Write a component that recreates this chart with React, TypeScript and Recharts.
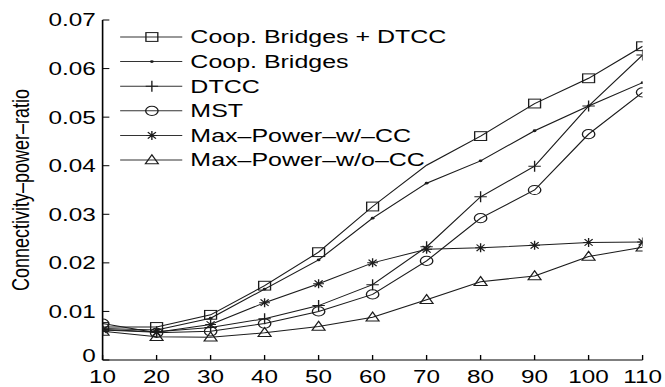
import { LineChart, Line, XAxis, YAxis } from "recharts";

// x positions and tick labels
const xValues = [10, 20, 30, 40, 50, 60, 70, 80, 90, 100, 110];
const yTicks = [0, 0.01, 0.02, 0.03, 0.04, 0.05, 0.06, 0.07];

// series values
const coopBridgesDtcc = [0.0068, 0.0068, 0.0093, 0.0153, 0.0222, 0.0316, 0.0401, 0.0461, 0.0528, 0.058, 0.0646];
const coopBridges = [0.0065, 0.0062, 0.0086, 0.0146, 0.0206, 0.0292, 0.0364, 0.041, 0.0472, 0.0523, 0.0571];
const dtcc = [0.0063, 0.0058, 0.0067, 0.0085, 0.0112, 0.0155, 0.0233, 0.0336, 0.0399, 0.0523, 0.0628];
const mst = [0.0075, 0.0056, 0.0059, 0.0075, 0.01, 0.0135, 0.0204, 0.0292, 0.035, 0.0465, 0.0551];
const maxPowerCC = [0.0062, 0.0057, 0.0073, 0.0118, 0.0157, 0.02, 0.0228, 0.0231, 0.0236, 0.0242, 0.0243];
const maxPowerNoCC = [0.0059, 0.0048, 0.0047, 0.0056, 0.0069, 0.0088, 0.0124, 0.0161, 0.0173, 0.0213, 0.0232];

const seriesList = [
  { key: "coopDtcc", name: "Coop. Bridges + DTCC", marker: "square", values: coopBridgesDtcc, hidden: [6] },
  { key: "coop", name: "Coop. Bridges", marker: "dot", values: coopBridges, hidden: [] as number[] },
  { key: "dtcc", name: "DTCC", marker: "plus", values: dtcc, hidden: [] as number[] },
  { key: "mst", name: "MST", marker: "circle", values: mst, hidden: [] as number[] },
  { key: "maxCC", name: "Max\u2013Power\u2013w/\u2013CC", marker: "star", values: maxPowerCC, hidden: [] as number[] },
  { key: "maxNoCC", name: "Max\u2013Power\u2013w/o\u2013CC", marker: "triangle", values: maxPowerNoCC, hidden: [] as number[] },
];

const data = xValues.map((x, i) => {
  const row: Record<string, number> = { x };
  seriesList.forEach((s) => (row[s.key] = s.values[i]));
  return row;
});

// the source image is stretched horizontally, so draw narrower and scale
const STRETCH = 1.35;
const W = 493;
const H = 387;
const FONT = '"Liberation Sans", Arial, Helvetica, sans-serif';
const INK = "#1c1c1c";

function Marker({ type, cx, cy }: { type: string; cx: number; cy: number }) {
  const st = { stroke: INK, strokeWidth: 1, fill: "none" };
  switch (type) {
    case "square":
      return <rect x={cx - 4.4} y={cy - 4.4} width={8.8} height={8.8} {...st} />;
    case "dot":
      return <circle cx={cx} cy={cy} r={1.4} fill={INK} />;
    case "plus":
      return <path d={`M${cx - 4.6},${cy}H${cx + 4.6}M${cx},${cy - 5.5}V${cy + 5.5}`} {...st} />;
    case "circle":
      return <circle cx={cx} cy={cy} r={4.6} {...st} />;
    case "star":
      return (
        <path
          d={`M${cx - 4},${cy}H${cx + 4}M${cx},${cy - 4.5}V${cy + 4.5}M${cx - 3},${cy - 3.3}L${cx + 3},${cy + 3.3}M${cx - 3},${cy + 3.3}L${cx + 3},${cy - 3.3}`}
          {...st}
        />
      );
    case "triangle":
      return <path d={`M${cx},${cy - 5.2}L${cx + 4.8},${cy + 3.8}L${cx - 4.8},${cy + 3.8}Z`} {...st} />;
    default:
      return null;
  }
}

const renderDot = (type: string, hidden: number[]) => (p: any) => {
  if (p.cx == null || p.cy == null || hidden.includes(p.index)) return <g key={`d-${type}-${p.index}`} />;
  return (
    <g key={`d-${type}-${p.index}`}>
      <Marker type={type} cx={p.cx} cy={p.cy} />
    </g>
  );
};

const BottomTick = (props: any) => {
  const { x, y, payload } = props;
  return (
    <g>
      <line x1={x} x2={x} y1={y} y2={y - 5} stroke="#000" />
      <text x={x} y={y + 23} textAnchor="middle" fontSize={18} fontFamily={FONT} fill="#000">
        {payload.value}
      </text>
    </g>
  );
};

const TopTick = (props: any) => {
  const { x, y } = props;
  return <line x1={x} x2={x} y1={y} y2={y + 5} stroke="#000" />;
};

const LeftTick = (props: any) => {
  const { x, y, payload } = props;
  const isZero = payload.value === 0;
  return (
    <g>
      <line x1={x} x2={x + 5} y1={y} y2={y} stroke="#000" />
      <text x={x - 5} y={y + (isZero ? 2.5 : 6.5)} textAnchor="end" fontSize={18} fontFamily={FONT} fill="#000">
        {isZero ? "0" : payload.value.toFixed(2)}
      </text>
    </g>
  );
};

const RightTick = (props: any) => {
  const { x, y } = props;
  return <line x1={x} x2={x - 5} y1={y} y2={y} stroke="#000" />;
};

const YLabel = () => (
  <text
    x={15.5}
    y={190}
    transform="rotate(-90 15.5 190)"
    textAnchor="middle"
    dominantBaseline="central"
    fontSize={18}
    fontFamily={FONT}
    fill="#000"
  >
    Connectivity–power–ratio
  </text>
);

const LegendBox = () => (
  <svg width={W} height={H} style={{ position: "absolute", left: 0, top: 0, pointerEvents: "none" }}>
    {seriesList.map((s, i) => {
      const y = 37 + i * 24.6;
      return (
        <g key={s.key}>
          <line x1={89} x2={135} y1={y} y2={y} stroke="#333" strokeWidth={1} />
          <Marker type={s.marker} cx={112.5} cy={y} />
          <text x={141} y={y + 6.5} fontSize={18.5} fontFamily={FONT} fill="#000">
            {s.name}
          </text>
        </g>
      );
    })}
  </svg>
);

export default function App() {
  const axisLine = { stroke: "#000", strokeWidth: 1.2 };
  return (
    <div
      style={{
        position: "absolute",
        left: 0,
        top: 0,
        width: W,
        height: H,
        background: "#fff",
        transform: `scaleX(${STRETCH})`,
        transformOrigin: "0 0",
      }}
    >
      <LineChart width={W} height={H} data={data} margin={{ top: 20, right: 17, bottom: 0, left: 0 }}>
        <XAxis
          dataKey="x"
          type="number"
          domain={[10, 110]}
          ticks={xValues}
          allowDataOverflow
          height={27}
          tickSize={0}
          tickMargin={0}
          tickLine={false}
          axisLine={axisLine}
          tick={<BottomTick />}
          interval={0}
        />
        <XAxis
          xAxisId="top"
          orientation="top"
          dataKey="x"
          type="number"
          domain={[10, 110]}
          ticks={xValues}
          allowDataOverflow
          height={0}
          tickSize={0}
          tickMargin={0}
          tickLine={false}
          axisLine={axisLine}
          tick={<TopTick />}
          interval={0}
        />
        <YAxis
          type="number"
          domain={[0, 0.07]}
          ticks={yTicks}
          allowDataOverflow
          width={76}
          tickSize={0}
          tickMargin={0}
          tickLine={false}
          axisLine={axisLine}
          tick={<LeftTick />}
          interval={0}
          label={<YLabel />}
        />
        <YAxis
          yAxisId="right"
          orientation="right"
          type="number"
          domain={[0, 0.07]}
          ticks={yTicks}
          allowDataOverflow
          width={0}
          tickSize={0}
          tickMargin={0}
          tickLine={false}
          axisLine={axisLine}
          tick={<RightTick />}
          interval={0}
        />
        {seriesList.map((s) => (
          <Line
            key={s.key}
            dataKey={s.key}
            name={s.name}
            stroke={INK}
            strokeWidth={1}
            dot={renderDot(s.marker, s.hidden)}
            activeDot={false}
            isAnimationActive={false}
          />
        ))}
      </LineChart>
      <LegendBox />
    </div>
  );
}
